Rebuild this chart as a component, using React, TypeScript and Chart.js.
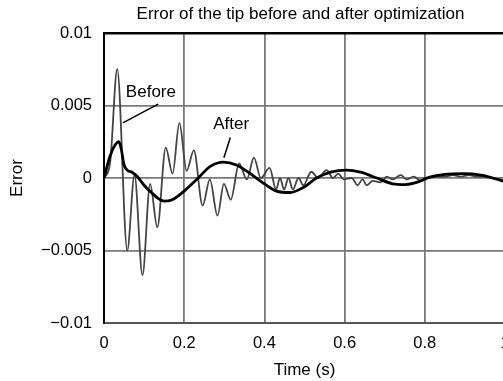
import React, { useEffect, useRef } from 'react';
import { Chart, registerables } from 'chart.js';

Chart.register(...registerables);

const titleText = 'Error of the tip before and after optimization';
const xTitle = 'Time (s)';
const yTitle = 'Error';
const seriesNames = ['Before', 'After'];

const xTickValues = [0, 0.2, 0.4, 0.6, 0.8, 1];
const xTickLabels = ['0', '0.2', '0.4', '0.6', '0.8', '1'];
const yTickValues = [-0.01, -0.005, 0, 0.005, 0.01];
const yTickLabels = ['\u22120.01', '\u22120.005', '0', '0.005', '0.01'];

const beforeT = [
  0, 0.015, 0.033, 0.058, 0.076, 0.096, 0.115, 0.133, 0.154, 0.171, 0.188, 0.206, 0.224,
  0.246, 0.264, 0.283, 0.299, 0.316, 0.337, 0.356, 0.374, 0.391, 0.413, 0.429, 0.439,
  0.449, 0.46, 0.471, 0.485, 0.497, 0.517, 0.534, 0.555, 0.571, 0.584, 0.598, 0.618,
  0.632, 0.645, 0.655, 0.67, 0.69, 0.705, 0.72, 0.74, 0.755, 0.772, 0.79, 0.81, 0.83,
  0.85, 0.87, 0.89, 0.91, 0.93, 0.95, 0.97, 1.0,
];
const beforeV = [
  0, 0.001, 0.0075, -0.005, 0.0002, -0.0067, -0.0004, -0.0034, 0.0021, 0.0003, 0.0038, 0.0005, 0.0019,
  -0.0019, -0.0001, -0.0026, -0.0004, -0.0015, 0.001, -0.0001, 0.0014, 0.0, 0.0007, -0.0008, 0.0,
  -0.0008, 0.0, -0.0008, 0.0, -0.0005, 0.00043, 0.0, 0.00055, 0.0, 0.0003, -0.0001, 0.0,
  -0.0005, -0.0001, -0.0005, -0.0002, -0.0003, 0.0001, -0.0001, 0.0002, -0.0001, 0.0001, -0.0002, 0.0, 0.0001,
  0.0001, 0.0002, 0.0001, 0.0002, 0.0001, 0.0001, 0.0, -0.0002,
];

const afterT = [
  0, 0.015, 0.028, 0.037, 0.043, 0.05, 0.06, 0.07, 0.083, 0.1, 0.118, 0.135, 0.15, 0.17, 0.2,
  0.235, 0.265, 0.298, 0.33, 0.37, 0.4, 0.43, 0.464, 0.5, 0.53, 0.565, 0.605, 0.64, 0.68,
  0.72, 0.75, 0.78, 0.805, 0.85, 0.895, 0.94, 1.0,
];
const afterV = [
  0, 0.0015, 0.0023, 0.0025, 0.002, 0.0009, 0.0005, 0.0004, 0.0001, -0.0005, -0.001, -0.0014, -0.0016, -0.0015, -0.0009,
  0.0, 0.0008, 0.0011, 0.0009, 0.0002, -0.0004, -0.0009, -0.001, -0.0006, 0.0, 0.0004, 0.00055, 0.0004, 0.0,
  -0.0004, -0.00045, -0.0003, 0.0, 0.00025, 0.0003, 0.0002, -0.00025,
];

const FONT = '"Liberation Sans", Arial, Helvetica, sans-serif';

const notes = [
  { text: 'Before', tx: 0.117, ty: 0.0059, x1: 0.135, y1: 0.0051, x2: 0.047, y2: 0.0038 },
  { text: 'After', tx: 0.317, ty: 0.0037, x1: 0.315, y1: 0.0028, x2: 0.299, y2: 0.0014 },
];

const notePlugin = {
  id: 'notes',
  afterDraw(chart: any) {
    const { ctx, scales, chartArea } = chart;
    const xs = scales.x;
    const ys = scales.y;
    ctx.save();
    ctx.fillStyle = '#000';
    ctx.strokeStyle = '#000';
    ctx.lineWidth = 1.5;
    ctx.textAlign = 'center';
    ctx.textBaseline = 'middle';
    ctx.font = `17px ${FONT}`;
    ctx.fillText(titleText, (chartArea.left + chartArea.right) / 2 - 4, 14);
    for (const n of notes) {
      ctx.fillText(n.text, xs.getPixelForValue(n.tx), ys.getPixelForValue(n.ty));
      ctx.beginPath();
      ctx.moveTo(xs.getPixelForValue(n.x1), ys.getPixelForValue(n.y1));
      ctx.lineTo(xs.getPixelForValue(n.x2), ys.getPixelForValue(n.y2));
      ctx.stroke();
    }
    ctx.restore();
  },
};

export default function App() {
  const ref = useRef<HTMLCanvasElement | null>(null);

  useEffect(() => {
    if (!ref.current) return;
    const chart = new Chart(ref.current, {
      type: 'line',
      data: {
        datasets: [
          {
            label: seriesNames[0],
            data: beforeT.map((t, i) => ({ x: t, y: beforeV[i] })),
            borderColor: '#444444',
            borderWidth: 1.8,
            pointRadius: 0,
            cubicInterpolationMode: 'monotone',
            fill: false,
            order: 2,
          },
          {
            label: seriesNames[1],
            data: afterT.map((t, i) => ({ x: t, y: afterV[i] })),
            borderColor: '#000000',
            borderWidth: 2.8,
            pointRadius: 0,
            cubicInterpolationMode: 'monotone',
            fill: false,
            order: 1,
          },
        ],
      },
      options: {
        responsive: false,
        animation: false,
        layout: { padding: { left: 0, right: 35, top: 33, bottom: 0 } },
        plugins: {
          legend: { display: false },
          tooltip: { enabled: false },
          title: { display: false },
        },
        scales: {
          x: {
            type: 'linear',
            min: 0,
            max: 1,
            afterBuildTicks: (s: any) => {
              s.ticks = xTickValues.map((v) => ({ value: v }));
            },
            afterFit: (s: any) => {
              s.height = 58;
            },
            ticks: {
              color: '#000',
              font: { family: FONT, size: 16.5 },
              padding: 11,
              maxRotation: 0,
              autoSkip: false,
              callback: (v: any) => {
                const i = xTickValues.findIndex((x) => Math.abs(x - v) < 1e-9);
                return i >= 0 ? xTickLabels[i] : '';
              },
            },
            grid: { color: '#7a7a7a', lineWidth: 1.8, drawTicks: false },
            border: { display: true, color: '#555', width: 2 },
            title: {
              display: true,
              text: xTitle,
              color: '#000',
              font: { family: FONT, size: 17 },
              padding: { top: 0, bottom: 0 },
            },
          },
          y: {
            type: 'linear',
            min: -0.01,
            max: 0.01,
            afterBuildTicks: (s: any) => {
              s.ticks = yTickValues.map((v) => ({ value: v }));
            },
            afterFit: (s: any) => {
              s.width = 104;
            },
            ticks: {
              color: '#000',
              font: { family: FONT, size: 16.5 },
              padding: 12,
              autoSkip: false,
              callback: (v: any) => {
                const i = yTickValues.findIndex((x) => Math.abs(x - v) < 1e-9);
                return i >= 0 ? yTickLabels[i] : '';
              },
            },
            grid: {
              color: (c: any) => (c.tick && Math.abs(c.tick.value - 0.01) < 1e-9 ? '#000' : '#7a7a7a'),
              lineWidth: (c: any) => (c.tick && Math.abs(c.tick.value - 0.01) < 1e-9 ? 2.5 : 1.8),
              drawTicks: false,
            },
            border: { display: true, color: '#000', width: 2 },
            title: {
              display: true,
              text: yTitle,
              color: '#000',
              font: { family: FONT, size: 17 },
              padding: { top: 7, bottom: 0 },
            },
          },
        },
      },
      plugins: [notePlugin],
    } as any);
    return () => chart.destroy();
  }, []);

  return (
    <div
      style={{
        position: 'fixed',
        left: 0,
        top: 0,
        width: 503,
        height: 381,
        overflow: 'hidden',
        background: '#fff',
      }}
    >
      <canvas ref={ref} width={540} height={381} style={{ display: 'block', width: 540, height: 381 }} />
    </div>
  );
}
